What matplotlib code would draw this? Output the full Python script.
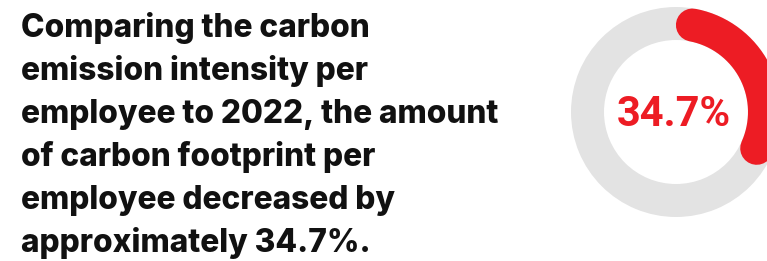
import numpy as np
import matplotlib
matplotlib.use("Agg")
import matplotlib.pyplot as plt
from matplotlib.patches import Wedge

# chart content
lines = [
    "Comparing the carbon",
    "emission intensity per",
    "employee to 2022, the amount",
    "of carbon footprint per",
    "employee decreased by",
    "approximately 34.7%.",
]
share = 34.7  # percent decrease
label = f"{share}%"

RED = "#ED1C24"
GREY = "#E3E3E3"

W, H = 767, 261
fig = plt.figure(figsize=(W / 100, H / 100), dpi=100)
ax = fig.add_axes([0, 0, 1, 1])
ax.set_xlim(0, W)
ax.set_ylim(H, 0)
ax.set_aspect("equal")
ax.axis("off")

# paragraph on the left
y0, step = 37, 43
for i, txt in enumerate(lines):
    ax.text(21, y0 + i * step, txt, fontfamily="Inter", fontweight="heavy",
            fontsize=22.8, color="#111111", ha="left", va="baseline")

# donut
cx, cy, r_out, width = 676, 112, 105, 33
ax.add_patch(Wedge((cx, cy), r_out, 0, 360, width=width, color=GREY, lw=0))

r_mid = r_out - width / 2
cap = (width / 2) / r_mid
end = np.deg2rad(share / 100 * 360)
theta = np.linspace(cap, end - cap, 200)
ax.plot(cx + r_mid * np.sin(theta), cy - r_mid * np.cos(theta), color=RED,
        lw=width * 72 / 100, solid_capstyle="round")

ax.text(cx - 2, 126, label, fontfamily="Roboto", fontweight="bold", fontsize=30,
        color=RED, ha="center", va="baseline")

fig.savefig("out.png", dpi=100)
